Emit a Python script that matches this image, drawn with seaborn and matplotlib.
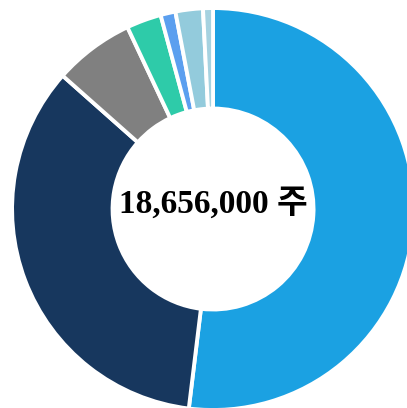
#! /usr/bin/env python3
# coding: utf-8
"""
Donut chart of share holdings with total in the centre

Output:
  - out.png
"""
import matplotlib
matplotlib.use('Agg')
import matplotlib.pyplot as plt
import seaborn as sb

# Data (shares of the total, in percent, clockwise from 12 o'clock)
labels = ['A', 'B', 'C', 'D', 'E', 'F', 'G']
shares = [51.9, 34.6, 6.45, 2.8, 1.2, 2.2, 0.8]
colors = ['#1BA1E2', '#17375E', '#808080', '#2ECBA9', '#5B9FEF', '#93CBDC', '#A6D2E0']
center_text = '18,656,000 주'


if __name__ == '__main__':
    sb.set_style('white')
    plt.rcParams['font.family'] = ['Liberation Serif', 'Noto Sans CJK KR', 'DejaVu Sans']

    fig = plt.figure(figsize=(4.07, 4.08), dpi=100)
    ax = fig.add_axes([0, 0, 1, 1])

    ax.pie(
        shares,
        labels=None,
        colors=colors,
        startangle=90,
        counterclock=False,
        radius=1.0,
        wedgeprops=dict(width=0.5, edgecolor='white', linewidth=2.8),
    )
    ax.text(0, -0.02, center_text, ha='center', va='baseline',
            fontsize=24, fontweight='bold', color='black')

    ax.set_aspect('auto')
    ax.set_xlim(-1.06, 0.965)
    ax.set_ylim(-0.99, 1.04)
    ax.axis('off')

    plt.savefig('out.png', dpi=100)
